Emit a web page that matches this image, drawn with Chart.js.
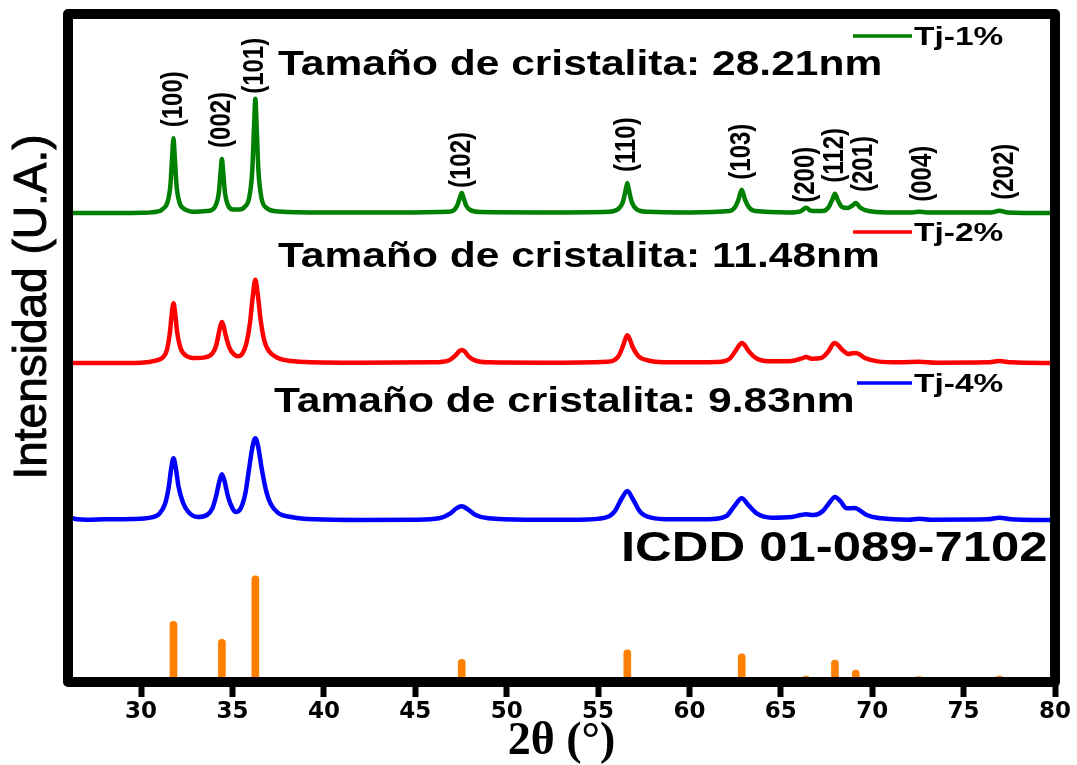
<!DOCTYPE html>
<html lang="es">
<head>
<meta charset="utf-8">
<title>DRX ZnO dopado con Tj</title>
<script src="https://cdn.jsdelivr.net/npm/chart.js@4.4.1/dist/chart.umd.min.js"></script>
<style>
  html, body { margin: 0; padding: 0; background: #fff; }
  canvas { display: block; }
</style>
</head>
<body>
<canvas id="xrd" width="1077" height="765"></canvas>
<script>
// ---- Datos ----
const xTicks = [30, 35, 40, 45, 50, 55, 60, 65, 70, 75, 80];

// Reflexiones (hkl) y patrón de referencia ICDD
const hklLabels = ['(100)', '(002)', '(101)', '(102)', '(110)', '(103)', '(200)', '(112)', '(201)', '(004)', '(202)'];
const icddTheta = [31.77, 34.42, 36.25, 47.54, 56.60, 62.86, 66.38, 67.96, 69.10, 72.56, 76.96];
const icddIntensity = [9.1, 6.4, 15.9, 3.4, 4.8, 4.2, 0.9, 3.3, 1.8, 0.8, 0.9];

const seriesNames = ['Tj-1%', 'Tj-2%', 'Tj-4%'];
const crystalliteNm = ['28.21', '11.48', '9.83'];

// Tj-1% (desplazada verticalmente)
const tj1Theta = [26.0, 28.0, 30.0, 31.0, 31.17, 31.44, 31.6, 31.7, 31.77, 31.84, 31.94, 32.1, 32.37, 33.0, 33.6,
  33.82, 34.09, 34.25, 34.35, 34.42, 34.49, 34.59, 34.75, 35.02, 35.4, 35.65, 35.92, 36.08, 36.18, 36.25, 36.32,
  36.42, 36.58, 36.85, 37.5, 40.0, 44.0, 46.8, 47.1, 47.29, 47.44, 47.54, 47.64, 47.79, 48.04, 48.6, 52.0, 55.6,
  56.1, 56.35, 56.5, 56.6, 56.7, 56.85, 57.1, 57.7, 60.0, 62.2, 62.5, 62.68, 62.86, 63.04, 63.25, 63.6, 65.5,
  66.1, 66.38, 66.65, 67.3, 67.6, 67.8, 67.96, 68.12, 68.35, 68.65, 68.9, 69.1, 69.35, 69.8, 70.8, 72.2, 72.56,
  73.0, 76.5, 76.96, 77.4, 80.0];
const tj1Intensity = [70.2, 70.2, 70.25, 70.5, 70.8, 71.8, 74.3, 78.7, 81.4, 78.7, 74.3, 71.8, 70.8, 70.4, 70.5,
  70.6, 71.4, 73.2, 76.4, 78.3, 76.4, 73.2, 71.4, 70.75, 70.75, 71.1, 72.6, 76.5, 83.2, 87.3, 83.2,
  76.5, 72.5, 71.0, 70.45, 70.3, 70.3, 70.4, 70.6, 71.3, 72.5, 73.2, 72.5, 71.3, 70.6, 70.35, 70.3, 70.4,
  70.8, 71.8, 73.5, 74.7, 73.5, 71.8, 70.8, 70.4, 70.3, 70.5, 71.1, 72.2, 73.7, 72.2, 71.1, 70.5, 70.3,
  70.5, 71.0, 70.55, 70.5, 71.0, 72.1, 73.1, 72.1, 71.1, 70.95, 71.3, 71.7, 71.0, 70.5, 70.3, 70.3, 70.4,
  70.3, 70.3, 70.55, 70.3, 70.2];

// Tj-2%
const tj2Theta = [26.0, 28.0, 30.0, 30.8, 31.2, 31.4, 31.57, 31.67, 31.77, 31.87, 31.97, 32.17, 32.5, 33.0, 33.5,
  33.9, 34.1, 34.22, 34.32, 34.42, 34.52, 34.62, 34.82, 35.1, 35.3, 35.55, 35.75, 35.95, 36.1, 36.25, 36.4,
  36.55, 36.75, 37.0, 37.5, 38.2, 39.0, 42.0, 46.0, 46.8, 47.2, 47.4, 47.54, 47.7, 47.9, 48.3, 49.0, 52.0,
  55.5, 56.1, 56.35, 56.5, 56.6, 56.72, 56.9, 57.2, 57.8, 59.0, 61.5, 62.2, 62.55, 62.75, 62.86, 63.0, 63.25,
  63.7, 64.5, 65.6, 66.1, 66.38, 66.7, 67.2, 67.6, 67.85, 67.96, 68.1, 68.45, 68.7, 69.0, 69.2, 69.6, 70.3,
  71.5, 72.56, 73.5, 76.3, 76.96, 77.6, 80.0];
const tj2Intensity = [47.75, 47.75, 47.8, 48.1, 48.6, 49.6, 52.2, 54.9, 56.7, 55.0, 52.4, 49.9, 48.8, 48.5, 48.6,
  49.2, 50.3, 51.8, 53.1, 53.9, 53.2, 52.0, 50.1, 49.0, 48.75, 49.2, 50.6, 53.6, 57.5, 60.2, 57.6,
  54.0, 51.0, 49.5, 48.5, 48.05, 47.9, 47.8, 47.85, 48.1, 48.9, 49.5, 49.7, 49.5, 48.8, 48.1, 47.85, 47.8,
  47.95, 48.7, 50.2, 51.4, 51.9, 51.4, 50.1, 48.8, 48.1, 47.85, 47.9, 48.4, 49.7, 50.5, 50.75, 50.5, 49.5,
  48.4, 48.0, 48.05, 48.4, 48.65, 48.4, 48.5, 49.5, 50.6, 50.75, 50.5, 49.5, 49.1, 49.25, 49.2, 48.5, 48.0,
  47.85, 47.95, 47.8, 47.85, 48.05, 47.85, 47.75];

// Tj-4%
const tj4Theta = [26.2, 26.5, 27.0, 28.0, 29.5, 30.5, 31.0, 31.3, 31.5, 31.65, 31.77, 31.9, 32.05, 32.3, 32.6,
  33.1, 33.6, 33.9, 34.1, 34.28, 34.42, 34.56, 34.75, 35.0, 35.2, 35.45, 35.7, 35.9, 36.1, 36.25, 36.4,
  36.6, 36.85, 37.1, 37.5, 38.2, 39.5, 42.0, 45.0, 46.3, 46.9, 47.25, 47.54, 47.85, 48.3, 49.0, 51.0, 54.0,
  55.4, 55.9, 56.3, 56.6, 56.9, 57.3, 57.9, 59.0, 61.0, 62.0, 62.45, 62.86, 63.25, 63.7, 64.5, 65.6, 66.1,
  66.38, 66.8, 67.3, 67.7, 67.96, 68.25, 68.6, 69.0, 69.2, 69.7, 70.5, 72.0, 72.56, 73.2, 76.3, 76.96, 77.6,
  79.0, 80.0];
const tj4Intensity = [24.55, 24.35, 24.3, 24.35, 24.4, 24.6, 25.2, 26.6, 29.0, 32.0, 33.5, 32.0, 29.2, 26.8, 25.4,
  24.7, 25.0, 26.0, 27.8, 30.0, 31.1, 30.1, 27.8, 26.0, 25.45, 26.0, 28.2, 31.8, 35.3, 36.5, 35.3,
  31.9, 28.5, 26.6, 25.3, 24.7, 24.35, 24.25, 24.3, 24.5, 25.2, 26.0, 26.3, 25.9, 25.0, 24.5, 24.3, 24.3,
  24.6, 25.5, 27.5, 28.6, 27.4, 25.5, 24.6, 24.35, 24.35, 24.8, 26.3, 27.5, 26.4, 25.2, 24.6, 24.7, 25.0,
  25.1, 25.0, 25.6, 27.0, 27.7, 27.1, 26.0, 26.05, 25.9, 25.0, 24.5, 24.3, 24.45, 24.3, 24.35, 24.6, 24.35,
  24.25, 24.25];

const seriesColors = ['#008000', '#ff0000', '#0000ff'];
const refColor = '#ff8000';

const toPoints = (xs, ys) => xs.map((x, i) => ({ x, y: ys[i] }));

const lineStyle = (label, color, xs, ys) => ({
  type: 'line',
  label,
  data: toPoints(xs, ys),
  borderColor: color,
  backgroundColor: color,
  borderWidth: 4.5,
  pointRadius: 0,
  cubicInterpolationMode: 'monotone',
  borderCapStyle: 'round',
  borderJoinStyle: 'round'
});

// Texto ensanchado horizontalmente (estilo de la figura original)
function wideText(ctx, text, x, y, font, k, opts = {}) {
  ctx.save();
  ctx.translate(x, y);
  ctx.scale(k, 1);
  if (opts.rotate) ctx.rotate(-Math.PI / 2);
  ctx.font = font;
  ctx.fillStyle = opts.color || '#000';
  ctx.textAlign = opts.align || 'left';
  ctx.textBaseline = opts.baseline || 'alphabetic';
  ctx.fillText(text, 0, 0);
  ctx.restore();
}

const SANS = '"Liberation Sans", Arial, Helvetica, sans-serif';

const framePlugin = {
  id: 'frameAndNotes',
  afterDraw(chart) {
    const { ctx, chartArea: a, scales } = chart;
    const xs = scales.x, ys = scales.y;

    // Marco del gráfico
    ctx.save();
    ctx.strokeStyle = '#000';
    ctx.lineWidth = 10;
    ctx.lineJoin = 'round';
    ctx.strokeRect(a.left, a.top, a.right - a.left, a.bottom - a.top);
    ctx.restore();

    // Título del eje Y
    ctx.save();
    ctx.translate(33, 307);
    ctx.rotate(-Math.PI / 2);
    ctx.font = '46px ' + SANS;
    ctx.fillStyle = '#000';
    ctx.textAlign = 'center';
    ctx.textBaseline = 'middle';
    ctx.fillText('Intensidad (U.A.)', 0, 0);
    ctx.lineWidth = 1;
    ctx.strokeStyle = '#000';
    ctx.strokeText('Intensidad (U.A.)', 0, 0);
    ctx.restore();

    // Índices de Miller sobre los picos de Tj-1%
    const gaps = [11, 11, 5, 5, 11, 10, 5, 11, 11, 10, 11];
    const nudges = [0, 0, 0, 0, 0, 0, 0, 0, 8, 4, 5];
    hklLabels.forEach((lab, i) => {
      const t = icddTheta[i];
      let top = -Infinity;
      tj1Theta.forEach((x, j) => { if (Math.abs(x - t) < 0.3) top = Math.max(top, tj1Intensity[j]); });
      const px = xs.getPixelForValue(t) + nudges[i];
      const py = ys.getPixelForValue(top) - gaps[i];
      wideText(ctx, lab, px, py, 'bold 24px ' + SANS, 1.22, { rotate: true, baseline: 'middle' });
    });

    // Tamaño de cristalita
    const notes = [[278, 75], [278, 267], [274, 412]];
    crystalliteNm.forEach((v, i) => {
      wideText(ctx, 'Tamaño de cristalita: ' + v + 'nm', notes[i][0], notes[i][1], 'bold 35px ' + SANS, 1.215);
    });
    wideText(ctx, 'ICDD 01-089-7102', 621, 561, 'bold 42px ' + SANS, 1.21);

    // Leyendas junto a cada curva
    const keys = [[853, 36], [853, 232], [857, 383]];
    seriesNames.forEach((name, i) => {
      const [lx, ly] = keys[i];
      ctx.save();
      ctx.strokeStyle = seriesColors[i];
      ctx.lineWidth = 3.5;
      ctx.beginPath();
      ctx.moveTo(lx, ly);
      ctx.lineTo(912, ly);
      ctx.stroke();
      ctx.restore();
      wideText(ctx, name, 914, ly + 9, 'bold 25px ' + SANS, 1.34);
    });
  }
};

new Chart(document.getElementById('xrd'), {
  type: 'line',
  data: {
    datasets: [
      lineStyle(seriesNames[0], seriesColors[0], tj1Theta, tj1Intensity),
      lineStyle(seriesNames[1], seriesColors[1], tj2Theta, tj2Intensity),
      lineStyle(seriesNames[2], seriesColors[2], tj4Theta, tj4Intensity),
      {
        type: 'bar',
        label: 'ICDD 01-089-7102',
        data: toPoints(icddTheta, icddIntensity),
        backgroundColor: refColor,
        barThickness: 7,
        borderRadius: 3.5,
        borderSkipped: 'start'
      }
    ]
  },
  options: {
    responsive: false,
    animation: false,
    layout: { padding: { top: 14, right: 22, left: 0, bottom: 0 } },
    plugins: { legend: { display: false }, tooltip: { enabled: false } },
    scales: {
      x: {
        type: 'linear',
        min: 26,
        max: 80,
        offset: false,
        afterBuildTicks: (s) => { s.ticks = xTicks.map(v => ({ value: v })); },
        afterFit: (s) => { s.height = 83; },
        border: { display: false },
        grid: { offset: false, drawOnChartArea: false, drawTicks: true, tickLength: 15, tickWidth: 6, tickColor: '#000' },
        ticks: {
          color: '#000',
          padding: 1,
          maxRotation: 0,
          autoSkip: false,
          font: { family: '"DejaVu Sans", sans-serif', weight: 'bold', size: 23 }
        },
        title: {
          display: true,
          text: '2θ (°)',
          color: '#000',
          padding: { top: 0, bottom: -5 },
          font: { family: '"Liberation Serif", "Times New Roman", serif', weight: 'bold', size: 46 }
        }
      },
      y: {
        min: 0,
        max: 100,
        afterFit: (s) => { s.width = 68; },
        ticks: { display: false },
        grid: { display: false },
        border: { display: false }
      }
    }
  },
  plugins: [framePlugin]
});
</script>
</body>
</html>
